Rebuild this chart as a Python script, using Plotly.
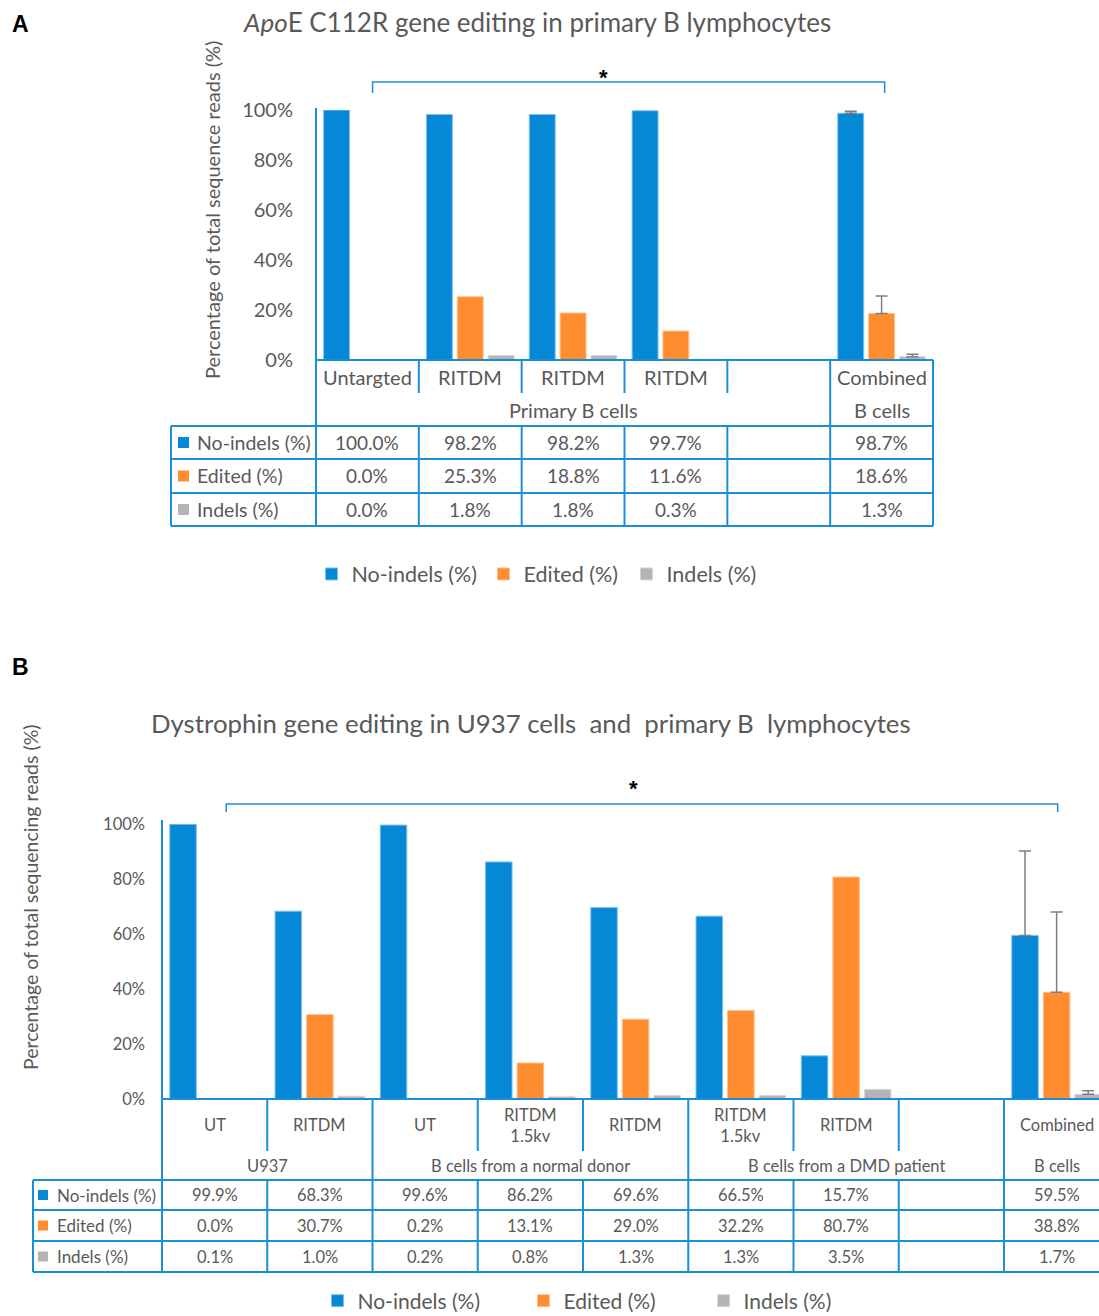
import numpy as np
import plotly.graph_objects as go

W, H = 1099, 1316
FONT = "Lato"
TXT = "#595959"
LINE = "#1B8ED8"

# ---------------- data ----------------
series_names = ["No-indels (%)", "Edited (%)", "Indels (%)"]
series_colors = ["#0589D6", "#FF8C2E", "#B4B4B4"]
edge_colors = ["#7DC0EA", "#FFC08F", "#D6D6D6"]
y_ticks = [0, 20, 40, 60, 80, 100]
y_tick_labels = ["0%", "20%", "40%", "60%", "80%", "100%"]

a_categories = ["Untargted", "RITDM", "RITDM", "RITDM", "", "Combined"]
a_groups = [("Primary B cells", 0, 4), ("B cells", 5, 5)]
a_no_indels = [100.0, 98.2, 98.2, 99.7, None, 98.7]
a_edited = [0.0, 25.3, 18.8, 11.6, None, 18.6]
a_indels = [0.0, 1.8, 1.8, 0.3, None, 1.3]
a_err_no_indels = [np.nan, np.nan, np.nan, np.nan, np.nan, 0.8]
a_err_edited = [np.nan, np.nan, np.nan, np.nan, np.nan, 7.0]
a_err_indels = [np.nan, np.nan, np.nan, np.nan, np.nan, 1.0]

b_categories = ["UT", "RITDM", "UT", "RITDM<br>1.5kv", "RITDM",
                "RITDM<br>1.5kv", "RITDM", "", "Combined"]
b_groups = [("U937", 0, 1), ("B cells from a normal donor", 2, 4),
            ("B cells from a DMD patient", 5, 7), ("B cells", 8, 8)]
b_no_indels = [99.9, 68.3, 99.6, 86.2, 69.6, 66.5, 15.7, None, 59.5]
b_edited = [0.0, 30.7, 0.2, 13.1, 29.0, 32.2, 80.7, None, 38.8]
b_indels = [0.1, 1.0, 0.2, 0.8, 1.3, 1.3, 3.5, None, 1.7]
b_err_no_indels = [np.nan] * 8 + [30.7]
b_err_edited = [np.nan] * 8 + [29.2]
b_err_indels = [np.nan] * 8 + [1.3]

a_series = [a_no_indels, a_edited, a_indels]
a_errors = [a_err_no_indels, a_err_edited, a_err_indels]
b_series = [b_no_indels, b_edited, b_indels]
b_errors = [b_err_no_indels, b_err_edited, b_err_indels]


def pyp(p):
    return 1 - p / H


def pxp(p):
    return p / W


# ---------------- layout geometry (pixels) ----------------
A_LEFT, A_RIGHT, A_BASE, A_TOP = 316, 933, 360, 110
B_LEFT, B_SLOT, B_BASE, B_TOP = 162, 105.25, 1099, 824
B_RANGE_END = -0.5 + (W - B_LEFT) / B_SLOT

fig = go.Figure()
legend_ids = [["legend", "legend2", "legend3"], ["legend4", "legend5", "legend6"]]


def add_bars(series, errors, xa, ya, legs):
    for k in range(3):
        err = np.array(errors[k], dtype=float)
        errm = np.where(np.isnan(err), np.nan, 0.0)
        fig.add_trace(go.Bar(
            x=list(range(len(series[k]))), y=series[k], name=series_names[k],
            marker=dict(color=series_colors[k], line=dict(color=edge_colors[k], width=1)),
            error_y=dict(type="data", symmetric=False, array=err, arrayminus=errm,
                         color="#7F7F7F", thickness=1.5, width=6, visible=True),
            xaxis=xa, yaxis=ya, legend=legs[k], hoverinfo="skip"))


add_bars(a_series, a_errors, "x", "y", legend_ids[0])
add_bars(b_series, b_errors, "x2", "y2", legend_ids[1])

shapes = []
ann = []


def hline(x0, x1, yp, xref="paper", w=2):
    shapes.append(dict(type="line", xref=xref, yref="paper", x0=x0, x1=x1,
                       y0=pyp(yp), y1=pyp(yp), line=dict(color=LINE, width=w)))


def vline(x, y0p, y1p, xref, w=2):
    shapes.append(dict(type="line", xref=xref, yref="paper", x0=x, x1=x,
                       y0=pyp(y0p), y1=pyp(y1p), line=dict(color=LINE, width=w)))


def text(x, yp, s, size, xref="paper", xanchor="center", color=TXT, family=FONT, angle=0):
    ann.append(dict(x=x, y=pyp(yp), xref=xref, yref="paper", text=s, showarrow=False,
                    xanchor=xanchor, yanchor="middle", textangle=angle,
                    font=dict(family=family, size=size, color=color)))


def build_table(xa, categories, groups, series, rows, lab_x, sw_x, sw_size, txt_x,
                top_px, right_edge, fs_cat, fs_cell, fs_lab):
    base = rows[0]
    hline(0, 1, base, xref=xa + " domain")
    vline(0, top_px, rows[-1], xa + " domain")
    if right_edge:
        vline(1, base, rows[-1], xa + " domain")
    for name, g0, g1 in groups:
        if g0 > 0:
            vline(g0 - 0.5, base, rows[-1], xa)
        for s in range(g0 + 1, g1 + 1):
            vline(s - 0.5, rows[0], rows[1], xa)
            vline(s - 0.5, rows[2], rows[-1], xa)
        text((g0 + g1) / 2, (rows[1] + rows[2]) / 2, name, fs_cat, xref=xa)
    vline(pxp(lab_x), rows[2], rows[-1], "paper")
    for yy in rows[2:]:
        hline(pxp(lab_x), 1 if not right_edge else pxp(right_edge), yy)
    for i, c in enumerate(categories):
        if c:
            text(i, (rows[0] + rows[1]) / 2, c, fs_cat, xref=xa)
    for k in range(3):
        yc = (rows[2 + k] + rows[3 + k]) / 2
        shapes.append(dict(type="rect", xref="paper", yref="paper",
                           x0=pxp(sw_x), x1=pxp(sw_x + sw_size),
                           y0=pyp(yc - sw_size / 2), y1=pyp(yc + sw_size / 2),
                           fillcolor=series_colors[k], line=dict(width=0)))
        text(pxp(txt_x), yc, series_names[k], fs_lab, xanchor="left")
        for i, v in enumerate(series[k]):
            if v is not None:
                text(i, yc, f"{v:.1f}%", fs_cell, xref=xa)


build_table("x", a_categories, a_groups, a_series, [360, 393, 426, 459, 493, 526],
            171, 178, 11, 195, 108, A_RIGHT, 20, 19, 19.5)
build_table("x2", b_categories, b_groups, b_series, [1099, 1151, 1180, 1210, 1241, 1272],
            33, 38, 10, 55, 820, None, 16.5, 16.5, 17)


# ---------------- significance brackets ----------------
def bracket(xref, x0, x1, ytop, ybot):
    shapes.append(dict(type="path", xref=xref, yref="paper",
                       path=f"M {x0},{pyp(ybot)} L {x0},{pyp(ytop)} L {x1},{pyp(ytop)} L {x1},{pyp(ybot)}",
                       line=dict(color=LINE, width=1.5)))


bracket("x", 0.05, 5.03, 82, 93)
text(2.3, 77, "<b>*</b>", 22, xref="x", color="black", family="Liberation Sans")
bracket("x2", 0.11, 8.01, 804, 812)
text(3.98, 788, "<b>*</b>", 22, xref="x2", color="black", family="Liberation Sans")

# ---------------- titles and labels ----------------
text(pxp(20), 24, "<b>A</b>", 23, color="black", family="Liberation Sans")
text(pxp(20), 667, "<b>B</b>", 23, color="black", family="Liberation Sans")
text(pxp(537), 22, "<i>Apo</i>E C112R gene editing in primary B lymphocytes", 26)
text(pxp(531), 723,
     "Dystrophin gene editing in U937 cells\u00a0 and\u00a0 primary B\u00a0 lymphocytes", 25.8)
text(pxp(212), 210, "Percentage of total sequence reads (%)", 20, angle=-90)
text(pxp(30), 897, "Percentage of total sequencing reads (%)", 19.5, angle=-90)

# ---------------- legends ----------------
a_leg_centers = [334.5, 506.5, 649.5]
b_leg_centers = [340.5, 546.5, 726.5]
leg = {}
for k in range(3):
    leg[legend_ids[0][k]] = dict(x=pxp(a_leg_centers[k] - 23), xanchor="left",
                                 y=pyp(574), yanchor="middle", orientation="h",
                                 bgcolor="rgba(0,0,0,0)", itemwidth=30,
                                 font=dict(family=FONT, size=21.5, color=TXT))
    leg[legend_ids[1][k]] = dict(x=pxp(b_leg_centers[k] - 23), xanchor="left",
                                 y=pyp(1301), yanchor="middle", orientation="h",
                                 bgcolor="rgba(0,0,0,0)", itemwidth=30,
                                 font=dict(family=FONT, size=21, color=TXT))

fig.update_layout(
    width=W, height=H, margin=dict(l=0, r=0, t=0, b=0, pad=0, autoexpand=False),
    paper_bgcolor="white", plot_bgcolor="white",
    barmode="group", bargap=0.1, bargroupgap=0.16,
    showlegend=True, shapes=shapes, annotations=ann,
    xaxis=dict(domain=[pxp(A_LEFT), pxp(A_RIGHT)], range=[-0.5, 5.5], visible=False),
    yaxis=dict(domain=[pyp(A_BASE), pyp(A_TOP)], range=[0, 100], tickvals=y_ticks,
               ticktext=y_tick_labels, showgrid=False, zeroline=False, showline=False,
               ticks="", ticklabelstandoff=22,
               tickfont=dict(family=FONT, size=20, color=TXT)),
    xaxis2=dict(domain=[pxp(B_LEFT), 1.0], range=[-0.5, B_RANGE_END], visible=False,
                anchor="y2"),
    yaxis2=dict(domain=[pyp(B_BASE), pyp(B_TOP)], range=[0, 100], tickvals=y_ticks,
                ticktext=y_tick_labels, showgrid=False, zeroline=False, showline=False,
                ticks="", anchor="x2", ticklabelstandoff=16,
                tickfont=dict(family=FONT, size=16.5, color=TXT)),
    **leg,
)

fig.write_html("out.html")
